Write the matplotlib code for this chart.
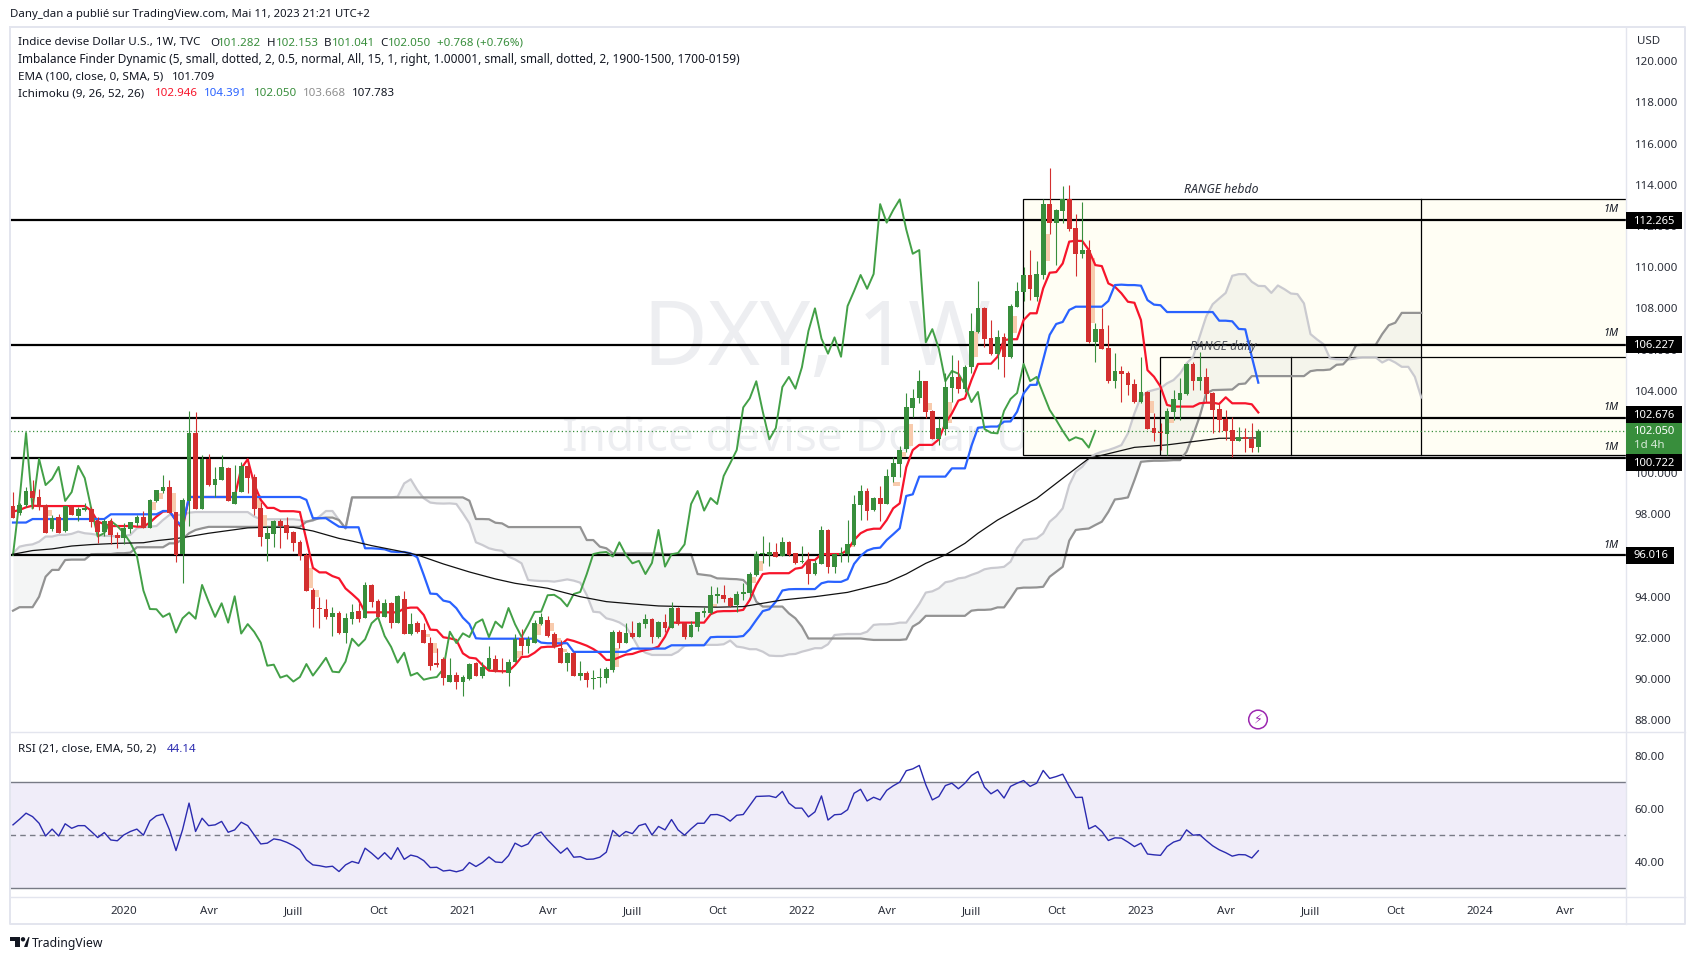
import numpy as np
import pandas as pd
import matplotlib
matplotlib.use("Agg")
import matplotlib.pyplot as plt
from matplotlib.patches import Rectangle, Circle, Polygon

plt.rcParams['font.family'] = ['Noto Sans', 'DejaVu Sans']

opens = [98.40,98.05,98.45,99.13,98.84,98.44,97.29,97.87,97.21,98.37,
97.94,98.23,98.24,97.69,97.14,97.68,97.00,96.87,97.30,97.58,
97.87,97.35,98.65,99.13,99.33,98.11,96.06,98.65,101.95,98.28,
100.69,99.42,99.67,100.25,98.52,99.08,100.35,99.81,98.31,96.80,
97.05,97.69,97.47,97.14,96.65,96.04,94.33,93.45,93.40,93.02,
93.19,92.25,92.92,93.31,92.98,94.57,93.79,93.03,93.69,92.74,
93.89,92.21,92.72,92.37,91.75,90.78,90.96,89.88,90.18,89.88,
90.00,90.77,90.17,90.51,90.96,90.41,90.31,90.85,91.99,91.62,
91.74,92.69,92.87,92.17,91.53,90.80,91.25,90.17,90.30,89.99,
90.04,90.07,90.44,92.29,91.75,92.22,92.04,92.69,92.92,92.03,
92.77,92.48,93.45,92.71,92.05,92.53,93.23,93.19,94.05,94.07,
93.92,93.58,94.12,94.18,95.06,96.06,96.04,96.17,95.99,96.66,
96.11,95.67,95.74,95.10,95.59,97.24,95.44,96.03,96.07,96.49,
98.45,99.13,98.19,98.78,98.50,99.80,100.44,101.15,103.18,103.65,
104.46,103.02,101.64,102.16,104.15,104.67,104.07,105.14,106.85,108.02,
106.54,105.80,106.59,105.65,108.08,108.81,109.62,108.57,109.62,113.06,
112.16,112.74,113.29,111.88,110.65,110.82,106.37,106.99,106.07,104.49,
104.96,104.86,104.33,103.45,103.94,102.19,102.01,101.90,102.98,103.55,
103.84,105.30,104.47,104.67,103.89,103.11,102.63,102.08,101.58,101.74,
101.67,101.282]

highs = [99.07,98.53,99.31,99.67,99.21,98.50,97.98,98.02,98.44,98.40,
98.34,98.53,98.34,97.89,97.76,97.81,97.16,97.56,97.64,97.97,
98.18,98.74,99.18,99.91,99.67,98.11,98.78,103.02,102.95,100.88,
100.93,100.28,100.88,100.31,100.39,100.54,100.48,99.96,98.62,97.43,
97.72,97.76,97.85,97.21,96.75,96.14,94.41,93.97,93.87,93.49,
93.32,93.19,93.63,93.68,94.70,94.62,93.87,93.87,93.74,94.07,
94.26,93.19,92.82,92.74,92.06,91.49,91.09,91.01,90.33,90.20,
90.77,90.85,90.85,91.61,91.19,91.03,90.96,92.17,92.42,92.09,
92.87,93.23,93.06,92.27,91.90,91.33,91.33,90.88,90.41,90.44,
90.52,90.57,92.38,92.38,92.71,92.82,92.79,93.14,92.97,92.84,
93.16,93.75,93.49,92.74,92.84,93.26,93.49,94.52,94.49,94.57,
94.00,94.30,94.68,95.22,96.24,96.95,96.67,96.59,96.92,96.71,
96.14,96.46,96.19,95.78,97.43,97.27,96.14,96.43,97.72,98.94,
99.42,99.26,98.86,99.38,100.18,100.77,101.32,103.91,104.07,104.99,
104.49,103.07,102.66,104.84,105.75,105.49,105.25,107.79,109.31,108.08,
107.43,106.95,106.79,108.21,109.28,110.00,110.83,110.28,113.29,114.81,
112.84,113.94,113.99,112.58,113.16,111.30,107.27,108.03,107.19,105.82,
105.22,104.97,104.55,105.65,103.97,102.90,102.42,103.15,104.04,104.60,
105.36,105.41,105.88,105.09,103.95,103.36,103.07,102.74,102.26,102.17,
102.42,102.153]

lows = [97.81,97.97,98.34,98.29,98.21,97.11,97.21,97.11,97.16,97.97,
97.69,98.18,97.37,96.59,96.95,96.56,96.38,96.56,97.11,97.43,
97.32,97.34,98.60,99.05,98.05,95.70,94.68,97.43,98.26,98.26,
99.38,98.86,99.67,98.63,98.52,99.08,99.02,97.97,96.48,95.75,
96.41,96.37,96.82,96.24,95.78,94.30,92.53,92.50,92.90,92.11,
92.19,91.77,92.67,92.77,92.95,93.52,93.00,93.00,92.48,92.72,
92.19,92.14,92.22,91.74,90.44,90.59,89.73,89.86,89.54,89.20,
89.96,90.14,90.05,90.44,90.33,90.28,89.68,90.85,91.17,91.28,
91.74,92.63,92.03,91.49,90.80,90.41,90.15,89.96,89.63,89.54,
89.60,89.83,90.36,91.53,91.74,91.99,92.03,92.50,91.75,92.01,
92.29,92.47,92.64,91.93,92.03,92.35,93.03,93.18,93.71,93.76,
93.52,93.28,93.84,94.00,95.02,95.62,95.49,95.93,95.98,95.98,
95.59,95.62,94.62,95.06,95.57,95.17,95.17,95.69,95.70,96.48,
97.72,97.72,98.18,97.69,98.50,99.59,99.83,101.04,102.71,103.39,
102.66,101.64,101.35,101.87,103.47,103.91,103.95,104.84,106.82,106.14,
105.75,105.05,104.68,105.61,108.06,108.36,108.40,108.34,109.41,111.61,
110.10,112.16,111.77,109.57,110.44,106.33,105.38,106.03,104.36,104.12,
103.47,103.79,103.42,103.42,102.13,101.56,101.12,100.88,102.58,102.58,
103.81,104.04,104.04,103.47,101.96,102.01,101.61,100.80,101.56,101.04,
101.04,101.041]

closes = [97.82,98.45,99.13,98.78,98.34,97.11,97.82,97.11,98.39,97.98,
98.24,98.28,97.64,97.14,97.66,96.98,96.87,97.32,97.63,97.87,
97.35,98.70,99.18,99.33,98.08,96.03,98.70,101.95,98.28,100.69,
99.42,99.72,100.30,98.65,99.08,100.35,99.76,98.28,96.92,97.09,
97.68,97.43,97.09,96.62,95.98,94.30,93.40,93.39,93.02,93.19,
92.26,92.95,93.24,92.93,94.57,93.76,93.02,93.68,92.74,94.02,
92.21,92.67,92.29,91.77,90.65,90.70,90.07,90.18,89.88,90.10,
90.73,90.17,90.59,91.03,90.36,90.33,90.85,91.96,91.61,91.93,
92.71,93.00,92.09,91.56,90.80,91.28,90.17,90.30,89.97,90.05,
90.10,90.49,92.30,91.75,92.22,92.04,92.72,92.90,92.04,92.79,
92.50,93.45,92.66,92.05,92.63,93.26,93.27,94.07,94.09,93.89,
93.53,94.13,94.23,95.10,96.07,96.14,96.17,95.95,96.64,96.03,
95.62,95.74,95.10,95.64,97.24,95.46,96.06,96.12,96.54,98.50,
99.13,98.18,98.79,98.50,99.86,100.48,101.12,103.19,103.63,104.46,
102.98,101.64,102.19,104.18,104.67,104.10,105.14,106.90,108.00,106.53,
105.80,106.59,105.65,108.11,108.84,109.62,108.95,109.67,113.06,112.16,
112.77,113.29,111.83,110.65,110.83,106.35,106.99,106.04,104.46,104.96,
104.83,104.29,103.45,103.94,102.14,101.96,101.93,103.02,103.60,103.89,
105.30,104.47,104.67,103.86,103.07,102.58,102.05,101.58,101.74,101.64,
101.24,102.05]

tenkan = [98.13,98.21,98.34,98.42,98.40,98.40,98.40,98.40,98.40,98.40,
98.40,98.40,98.18,97.64,97.53,97.43,97.43,97.43,97.43,97.40,
97.40,97.60,97.89,98.13,98.16,97.69,97.30,98.84,98.84,98.84,
98.84,98.84,98.84,98.84,98.84,100.23,100.67,99.46,98.70,98.31,
98.31,98.15,98.15,98.15,98.11,96.75,95.40,95.18,95.18,95.00,
94.89,94.40,94.13,93.84,93.24,93.24,93.24,93.24,93.24,93.24,
93.43,93.47,93.47,93.11,92.40,92.38,92.03,91.98,91.90,91.25,
91.04,91.00,90.68,90.41,90.39,90.38,90.38,90.68,91.07,91.09,
91.28,91.54,91.57,91.57,91.66,91.93,91.85,91.74,91.62,91.46,
91.25,90.93,90.93,91.06,91.19,91.22,91.33,91.41,91.46,91.58,
92.06,92.74,92.74,92.74,92.74,92.74,92.74,93.15,93.28,93.30,
93.30,93.31,93.36,93.84,94.57,95.10,95.14,95.14,95.14,95.14,
95.36,95.41,95.78,95.78,96.07,96.07,96.07,96.07,96.27,96.75,
97.08,97.24,97.30,97.30,97.72,98.29,98.53,100.28,101.12,101.37,
101.37,101.37,101.64,102.42,102.90,103.52,103.63,104.52,105.30,105.31,
105.31,105.65,106.46,106.50,106.50,107.43,107.76,107.76,108.97,109.73,
109.76,110.18,111.24,111.28,111.27,110.83,110.10,110.05,109.21,109.05,
108.73,108.32,108.27,107.43,105.00,104.68,104.20,103.31,103.23,103.23,
103.23,103.23,103.39,103.42,103.42,103.36,103.68,103.39,103.39,103.39,
103.34,102.946]

kijun = [97.60,97.60,97.60,97.77,97.77,97.77,97.77,97.77,97.77,97.77,
97.77,97.77,97.77,97.77,97.77,98.00,98.00,98.00,98.00,98.00,
98.00,98.00,98.00,98.16,98.16,97.69,97.43,98.84,98.84,98.84,
98.84,98.84,98.84,98.84,98.84,98.84,98.84,98.84,98.84,98.84,
98.84,98.84,98.84,98.84,98.84,98.70,97.81,97.81,97.81,97.60,
97.40,97.37,97.37,97.37,96.35,96.35,96.33,96.30,96.19,96.17,
96.17,96.10,95.91,95.05,94.15,94.13,93.81,93.74,93.44,92.98,
92.67,91.98,91.96,91.96,91.96,91.96,91.96,91.96,91.96,91.96,
91.96,91.77,91.74,91.74,91.74,91.74,91.32,91.32,91.32,91.32,
91.32,91.32,91.32,91.32,91.32,91.48,91.48,91.48,91.48,91.48,
91.48,91.64,91.64,91.64,91.64,91.64,91.64,92.03,92.05,92.05,
92.05,92.05,92.09,92.42,92.87,93.30,93.39,93.76,94.30,94.36,
94.37,94.37,94.37,94.37,94.65,94.73,94.72,94.72,94.85,95.59,
95.98,96.24,96.35,96.38,96.75,97.03,97.32,98.89,98.97,99.83,
99.83,99.83,99.83,99.83,100.23,100.23,100.23,101.32,102.20,102.24,
102.26,102.26,102.50,102.51,102.98,103.87,104.28,104.29,105.49,106.71,
107.24,107.34,107.92,108.08,108.08,108.08,108.08,108.08,108.36,109.13,
109.15,109.13,109.13,109.10,108.40,108.18,108.15,107.82,107.82,107.82,
107.82,107.82,107.82,107.82,107.82,107.40,107.40,107.37,107.00,106.98,
105.65,104.391]

chikou = [96.03,98.70,101.95,98.28,100.69,99.42,99.72,100.30,98.65,99.08,
100.35,99.76,98.28,96.92,97.09,97.68,97.43,97.09,96.62,95.98,
94.30,93.40,93.39,93.02,93.19,92.26,92.95,93.24,92.93,94.57,
93.76,93.02,93.68,92.74,94.02,92.21,92.67,92.29,91.77,90.65,
90.70,90.07,90.18,89.88,90.10,90.73,90.17,90.59,91.03,90.36,
90.33,90.85,91.96,91.61,91.93,92.71,93.00,92.09,91.56,90.80,
91.28,90.17,90.30,89.97,90.05,90.10,90.49,92.30,91.75,92.22,
92.04,92.72,92.90,92.04,92.79,92.50,93.45,92.66,92.05,92.63,
93.26,93.27,94.07,94.09,93.89,93.53,94.13,94.23,95.10,96.07,
96.14,96.17,95.95,96.64,96.03,95.62,95.74,95.10,95.64,97.24,
95.46,96.06,96.12,96.54,98.50,99.13,98.18,98.79,98.50,99.86,
100.48,101.12,103.19,103.63,104.46,102.98,101.64,102.19,104.18,104.67,
104.10,105.14,106.90,108.00,106.53,105.80,106.59,105.65,108.11,108.84,
109.62,108.95,109.67,113.06,112.16,112.77,113.29,111.83,110.65,110.83,
106.35,106.99,106.04,104.46,104.96,104.83,104.29,103.45,103.94,102.14,
101.96,101.93,103.02,103.60,103.89,105.30,104.47,104.67,103.86,103.07,
102.58,102.05,101.58,101.74,101.64,101.24,102.05]

senkou_a = [96.11,96.43,96.50,96.54,96.67,96.92,96.92,97.00,97.00,97.05,
97.16,97.08,97.05,97.00,96.95,96.95,96.92,96.95,97.00,97.32,
97.37,97.40,97.43,97.72,97.97,97.97,97.97,98.08,98.11,98.11,
98.11,98.11,98.11,98.11,98.11,98.11,98.11,97.89,97.76,97.76,
97.76,97.76,97.76,97.76,97.72,97.64,97.69,97.89,98.16,98.16,
97.72,97.32,98.82,98.82,98.82,98.82,98.82,98.82,98.82,98.86,
99.50,99.70,99.18,98.78,98.57,98.53,98.52,98.53,98.50,98.05,
97.56,96.64,96.51,96.35,96.27,96.23,95.94,95.81,95.62,94.81,
94.78,94.76,94.76,94.73,94.78,94.84,94.78,94.68,94.08,93.27,
93.24,92.95,92.87,92.75,92.55,92.06,91.49,91.28,91.17,91.17,
91.17,91.17,91.33,91.61,91.66,91.66,91.66,91.66,91.66,91.69,
91.87,91.58,91.53,91.45,91.45,91.33,91.14,91.12,91.12,91.20,
91.22,91.33,91.41,91.50,91.50,91.69,92.14,92.17,92.19,92.19,
92.19,92.30,92.63,92.66,92.66,92.68,92.74,92.74,93.19,93.65,
94.20,94.26,94.41,94.70,94.76,94.89,94.93,95.06,95.17,95.33,
95.39,95.41,95.45,95.70,96.35,96.75,96.80,96.83,97.07,97.64,
97.91,98.29,99.42,100.07,100.31,100.71,100.92,101.04,101.12,101.23,
101.36,101.93,102.90,103.71,103.95,104.04,104.12,104.36,104.52,104.84,
105.33,105.65,106.62,107.60,108.20,108.48,108.75,109.58,109.66,109.66,
109.29,109.09,109.08,108.75,109.11,108.93,108.72,108.69,108.24,106.75,
106.49,106.26,105.57,105.53,105.52,105.52,105.57,105.62,105.62,105.62,
105.37,105.53,105.37,105.16,105.16,104.68,103.668]

senkou_b = [93.32,93.49,93.49,93.49,94.00,94.97,95.30,95.30,95.78,95.80,
95.80,95.80,96.06,96.07,96.07,96.07,96.11,96.11,96.14,96.40,
96.40,96.40,96.40,96.40,96.59,96.59,96.79,97.08,97.24,97.32,
97.39,97.39,97.39,97.39,97.39,97.39,97.39,97.39,97.39,97.39,
97.39,97.39,97.39,97.39,97.39,97.64,97.72,97.81,97.84,97.84,
97.72,97.32,98.82,98.82,98.82,98.82,98.82,98.82,98.82,98.82,
98.82,98.82,98.82,98.82,98.82,98.82,98.82,98.82,98.82,98.82,
98.66,97.77,97.77,97.76,97.59,97.56,97.38,97.38,97.38,97.38,
97.38,97.38,97.38,97.38,97.38,97.38,97.38,97.38,96.75,96.75,
96.43,96.35,96.10,96.10,96.10,96.10,96.10,96.10,96.10,96.10,
96.07,96.07,96.07,96.07,96.07,95.10,95.06,95.02,94.89,94.88,
94.86,94.85,94.81,94.49,93.76,93.52,93.52,93.52,93.52,93.19,
92.95,92.55,91.97,91.97,91.97,91.97,91.97,91.97,91.97,91.97,
91.97,91.93,91.90,91.90,91.90,91.90,91.90,91.93,92.55,92.74,
93.07,93.07,93.07,93.07,93.07,93.07,93.07,93.32,93.36,93.36,
93.38,93.48,93.48,93.92,94.40,94.44,94.44,94.45,94.48,94.97,
95.21,95.45,96.72,97.24,97.28,97.31,97.48,97.64,98.12,98.72,
98.76,98.82,99.66,100.55,100.58,100.60,100.60,100.61,100.63,100.63,
101.04,101.85,102.74,103.87,104.03,104.04,104.05,104.06,104.32,104.35,
104.71,104.71,104.71,104.71,104.71,104.71,104.71,104.71,104.71,104.95,
105.00,105.00,105.03,105.26,105.28,105.62,106.21,106.23,106.23,106.23,
106.75,107.18,107.30,107.78,107.78,107.78,107.78]

ema_weeks = [0,3,6,9,12,16,20,22,25,27,30,33,36,39,43,46,50,52,55,59,62,66,70,74,77,82,87,91,95,99,
             103,108,112,115,118,123,128,134,137,140,143,146,148,151,157,162,165,172,177,185,191]
ema_values = [96.06,96.24,96.32,96.46,96.53,96.59,96.62,96.72,96.82,96.92,97.08,97.21,97.34,97.37,97.37,97.19,96.83,
              96.70,96.48,96.23,96.03,95.59,95.20,94.86,94.65,94.41,94.00,93.76,93.65,93.55,
              93.52,93.49,93.52,93.68,93.84,94.00,94.21,94.68,95.10,95.62,96.03,96.59,97.08,97.72,98.77,99.99,100.71,
              101.25,101.37,101.69,101.709]

rsi = [53.9,56.0,58.3,57.0,54.5,49.7,52.3,49.7,54.3,52.6,53.6,53.6,51.4,49.1,51.0,48.2,47.9,50.1,51.4,52.3,
50.0,55.4,57.3,57.9,52.0,44.2,52.0,62.1,51.4,56.4,53.6,53.9,55.2,51.1,52.0,54.9,53.6,50.1,46.7,47.0,
48.6,48.2,47.3,46.1,44.5,40.7,38.8,38.5,38.0,38.3,36.3,38.8,40.1,39.4,45.1,43.2,41.0,43.4,40.9,45.3,
40.9,42.5,41.9,40.4,37.8,37.9,36.5,36.8,36.2,36.9,39.7,38.2,39.7,41.8,39.9,39.7,42.3,47.0,45.7,46.7,
50.1,51.2,48.2,45.7,43.2,45.2,41.7,41.9,40.9,41.0,41.7,43.6,51.8,49.5,51.4,50.6,53.6,54.3,50.1,53.3,
52.0,55.9,52.0,50.0,52.4,54.5,54.5,57.7,57.8,57.0,55.3,57.5,57.8,61.2,64.6,64.7,64.8,64.2,66.5,62.1,
60.2,60.2,56.9,58.8,64.8,55.7,57.7,57.9,59.6,65.8,67.3,62.9,64.3,63.3,66.9,68.6,70.0,74.3,75.0,76.3,
69.0,63.3,64.6,68.7,69.6,67.5,69.6,72.5,74.0,68.1,65.6,67.1,64.0,68.4,69.6,70.6,68.4,69.6,74.4,71.4,
72.1,73.0,68.4,64.2,64.3,52.4,53.6,51.4,48.0,49.0,48.9,47.4,45.7,47.0,42.9,42.6,42.4,45.7,47.4,48.2,
52.0,50.0,50.2,48.0,46.0,44.5,43.4,42.1,42.7,42.6,41.4,44.14]

imb_weeks = [5,21,22,24,37,38,45,46,63,64,77,80,82,83,84,92,107,113,114,128,135,136,137,140,143,147,153,158,165,174,177]
imb_tops = [98.21,98.60,99.02,99.02,98.93,97.97,95.38,94.33,92.19,91.74,91.37,92.67,92.71,91.98,91.46,91.49,93.65,94.97,95.72,
            96.54,99.59,101.04,102.39,103.42,103.45,106.85,107.63,111.61,110.43,103.50,102.61]
imb_bottoms = [97.94,98.21,98.76,98.13,98.29,97.43,94.41,94.00,92.06,91.25,91.00,92.14,92.35,91.79,91.33,90.60,93.49,94.68,95.27,
               96.43,99.39,100.80,101.33,103.07,102.42,105.65,106.82,110.31,107.30,102.93,102.45]

level_values = [112.265,106.227,102.676,100.722,96.016]
price_ticks = [120,118,116,114,112,110,108,106,104,102,100,98,96,94,92,90,88]
rsi_ticks = [80,60,40]
tick_months = ['2020-01-01','2020-04-01','2020-07-01','2020-10-01','2021-01-01','2021-04-01','2021-07-01','2021-10-01',
               '2022-01-01','2022-04-01','2022-07-01','2022-10-01','2023-01-01','2023-04-01','2023-07-01','2023-10-01',
               '2024-01-01','2024-04-01']
tick_names = ['2020','Avr','Juill','Oct','2021','Avr','Juill','Oct','2022','Avr','Juill','Oct','2023','Avr','Juill','Oct','2024','Avr']
first_week = pd.Timestamp('2019-09-09')

for name, arr, n in [('o',opens,192),('h',highs,192),('l',lows,192),('c',closes,192),('t',tenkan,192),('k',kijun,192),
                     ('ch',chikou,167),('a',senkou_a,217),('b',senkou_b,217),('r',rsi,192)]:
    assert len(arr) == n, (name, len(arr))

W, H = 1696, 960
fig = plt.figure(figsize=(W/100, H/100), dpi=100, facecolor='white')
def axbox(l, t, r, b):
    return [l/W, 1-b/H, (r-l)/W, (b-t)/H]

ax = fig.add_axes(axbox(10, 27, 1626, 732))
rs = fig.add_axes(axbox(10, 732, 1626, 897), sharex=ax)
XL = ((10-13)/6.52, (1626-13)/6.52)
ax.set_xlim(*XL)
ax.set_ylim(87.43, 121.66)
rs.set_ylim(26.7, 88.9)

TXT = '#131722'
GREEN, RED = '#388E3C', '#D32F2F'
CREAM = '#FFFEF4'
FS = 8.3
wm = '#EDEEF1'

# watermark, behind all marks
wmk = dict(color=wm, ha='center', va='center', zorder=0.5, transform=fig.transFigure, clip_on=False)
ax.text(817/W, 1-342/H, 'DXY, 1W', fontsize=64, **wmk)
ax.text(820/W, 1-439/H, 'Indice devise Dollar U.S.', fontsize=33, **wmk)

# drawings
top_h, bot_r, left_h, left_d, top_d, vert_h, vert_d = 113.30, 100.88, 154.9, 175.9, 105.65, 216, 196
ax.add_patch(Rectangle((left_h, bot_r), XL[1]-left_h+1, top_h-bot_r, fc=CREAM, ec='black', lw=0.9, zorder=1))
ax.add_patch(Rectangle((left_d, bot_r), XL[1]-left_d+1, top_d-bot_r, fc=CREAM, ec='black', lw=0.9, zorder=1.1))
ax.plot([vert_h, vert_h], [bot_r, top_h], color='black', lw=0.9, zorder=1.2)
ax.plot([vert_d, vert_d], [bot_r, top_d], color='black', lw=0.9, zorder=1.2)

x_c = np.arange(len(closes))
x_sen = np.arange(len(senkou_a))
x_ch = np.arange(len(chikou))
A, B = np.array(senkou_a), np.array(senkou_b)
ax.fill_between(x_sen, A, B, color='#787B86', alpha=0.075, lw=0, zorder=2)
ax.plot(x_sen, A, color='#C8C8CE', lw=1.6, zorder=3, alpha=0.95)
ax.plot(x_sen, B, color='#8E8E8E', lw=1.6, zorder=3, alpha=0.95)

for lv in level_values:
    ax.axhline(lv, color='black', lw=1.6, zorder=3.5)
ax.axhline(closes[-1], color=GREEN, lw=0.9, ls=(0, (1, 2)), zorder=3.5)

for w, t, b in zip(imb_weeks, imb_tops, imb_bottoms):
    ax.add_patch(Rectangle((w, b), 1, t-b, fc='#F8CBAD', ec='none', zorder=3.6))

ax.plot(x_c, tenkan, color='#F7152B', lw=1.6, zorder=4)
ax.plot(x_c, kijun, color='#2962FF', lw=1.6, zorder=4)
ax.plot(x_ch, chikou, color='#43A047', lw=1.4, zorder=4)
ax.plot(ema_weeks, ema_values, color='#111111', lw=0.9, zorder=4)

o, h, l, c = map(np.array, (opens, highs, lows, closes))
col = np.where(c >= o, GREEN, RED)
ax.vlines(x_c, l, h, colors=col, lw=0.8, zorder=5)
ax.bar(x_c, np.maximum(np.abs(c-o), 0.06), bottom=np.minimum(o, c), width=0.72, color=col, lw=0, zorder=5.1)

# main axis ticks
ax.yaxis.tick_right()
ax.set_yticks(price_ticks)
ax.set_yticklabels([f'{v:.3f}' for v in price_ticks], fontsize=FS, color='#2A2E39')
ax.tick_params(axis='y', length=0, pad=6.2)
ax.tick_params(axis='x', length=0, labelbottom=False)

# RSI pane
rs.axhspan(30, 70, color='#F0EDF9', lw=0, zorder=1)
for lv, ls in [(70,'-'),(30,'-'),(50,(0,(4,3)))]:
    rs.axhline(lv, color='#787B86', lw=1.0, ls=ls, zorder=2)
rs.plot(x_c, rsi, color='#2B2BB0', lw=1.0, zorder=3)
rs.yaxis.tick_right()
rs.set_yticks(rsi_ticks)
rs.set_yticklabels([f'{v:.2f}' for v in rsi_ticks], fontsize=FS, color='#2A2E39')
rs.tick_params(axis='y', length=0, pad=6.2)
tick_pos = [int(np.ceil((pd.Timestamp(d)-first_week).days/7)) for d in tick_months]
rs.set_xticks(tick_pos)
rs.set_xticklabels(tick_names, fontsize=FS, color='#2A2E39')
for lab in rs.get_xticklabels():
    if lab.get_text().isdigit():
        lab.set_fontweight('bold')
rs.tick_params(axis='x', length=0, pad=6.2)

for a in (ax, rs):
    for s in a.spines.values():
        s.set_visible(False)

# overlay in pixels
ov = fig.add_axes([0,0,1,1], facecolor='none', zorder=10)
ov.set_xlim(0, W); ov.set_ylim(H, 0); ov.axis('off')

FR = '#E3E5EE'
ov.plot([10,1685,1685,10,10],[27,27,924,924,27], color=FR, lw=1.4)
ov.plot([1626,1626],[27,924], color=FR, lw=1.0)
ov.plot([10,1685],[732,732], color=FR, lw=1.0)
ov.plot([10,1685],[897,897], color=FR, lw=1.0)

def T(x, y, s, color=TXT, fs=FS, **kw):
    kw.setdefault('va', 'center')
    return ov.text(x, y, s, color=color, fontsize=fs, **kw)

T(10, 15, 'Dany_dan a publié sur TradingView.com, Mai 11, 2023 21:21 UTC+2', fs=8.2)
T(18, 43, 'Indice devise Dollar U.S., 1W, TVC', fs=8.4)
for x, s, cl in [(210,'O',TXT),(218,'101.282',GREEN),(267,'H',TXT),(275.5,'102.153',GREEN),(324,'B',TXT),(331.6,'101.041',GREEN),
                 (380.6,'C',TXT),(388,'102.050',GREEN),(436.7,'+0.768 (+0.76%)',GREEN)]:
    T(x, 43, s, cl)
T(18, 60, 'Imbalance Finder Dynamic (5, small, dotted, 2, 0.5, normal, All, 15, 1, right, 1.00001, small, small, dotted, 2, 1900-1500, 1700-0159)', fs=8.53)
T(18, 77, 'EMA (100, close, 0, SMA, 5)', fs=8.4)
T(172.4, 77, '101.709')
T(18, 94, 'Ichimoku (9, 26, 52, 26)', fs=8.4)
for x, s, cl in [(154.6,'102.946','#F7152B'),(204,'104.391','#2962FF'),(253.6,'102.050',GREEN),(302.5,'103.668','#8E8E8E'),(352,'107.783',TXT)]:
    T(x, 94, s, cl)
T(18.4, 749, 'RSI (21, close, EMA, 50, 2)', fs=8.4)
T(167, 749, '44.14', '#2B2BB0')
T(1636.7, 41, 'USD', '#2A2E39')
T(1184, 189.5, 'RANGE hebdo', '#2A2E39', fs=8.8, style='italic')
T(1190, 346.5, 'RANGE daily', '#3A3E49', fs=8.8, style='italic', alpha=0.85)
for y in (210, 333, 407, 447, 545):
    T(1619, y, '1M', '#131722', fs=7.8, style='italic', ha='right')

for top, bot, right, s in [(212,229,1682,'112.265'),(336,353,1682,'106.227'),(406,423,1682,'102.676'),
                           (454,471,1682,'100.722'),(547,564,1674,'96.016')]:
    ov.add_patch(Rectangle((1626, top), right-1626, bot-top, fc='black', ec='none', zorder=5))
    T(1633, (top+bot)/2+0.5, s, 'white', fs=8.1, zorder=6, fontweight='bold')
ov.add_patch(Rectangle((1626, 423), 56, 31, fc=GREEN, ec='none', zorder=4))
T(1633, 431.5, '102.050', 'white', fs=8.1, zorder=6, fontweight='bold')
T(1634, 446, '1d 4h', '#D7EBD8', zorder=6)

# event marker
ov.add_patch(Circle((1258, 719.5), 9.3, fc='white', ec='#9C27B0', lw=1.1))
T(1258, 719, '\u26A1', '#9C27B0', fs=9, ha='center', family='DejaVu Sans')

# logo and brand
ov.add_patch(Polygon([(10,937),(20,937),(20,947),(15,947),(15,941),(10,941)], fc=TXT, ec='none'))
ov.add_patch(Circle((23,939.3), 2.2, fc=TXT, ec='none'))
ov.add_patch(Polygon([(24,947),(26,942),(28.5,937),(29.5,937),(27.5,947)], fc=TXT, ec='none'))
T(32, 943, 'TradingView', TXT, fs=8.8)

fig.savefig('out.png', dpi=100, facecolor='white')
